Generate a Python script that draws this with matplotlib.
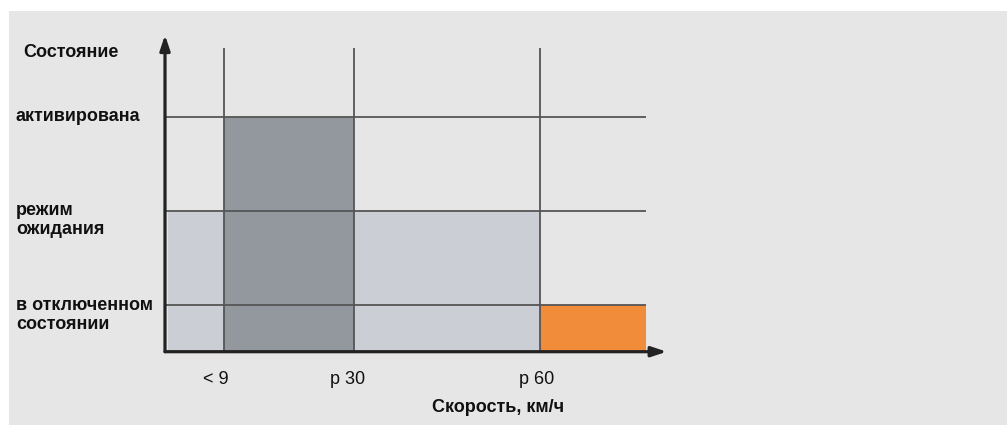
import matplotlib
matplotlib.use("Agg")
import matplotlib.pyplot as plt
from matplotlib.patches import Rectangle
from matplotlib.transforms import blended_transform_factory, offset_copy

plt.rcParams['font.family'] = ['Liberation Sans', 'DejaVu Sans']

# Data
speed_edges = [0, 9, 30, 60, 77]            # km/h segment boundaries
state_levels = [3, 5, 3, 1]                  # state level per segment
segment_colors = ['#cbced5', '#92989e', '#cbced5', '#f08c3a']
speed_ticks = [9, 30, 60]
speed_labels = ['< 9', 'p 30', 'p 60']
state_values = [5, 3, 1]
state_labels = ['активирована', 'режим\nожидания', 'в отключенном\nсостоянии']
y_title = 'Состояние'
x_title = 'Скорость, км/ч'

W, H = 1008, 425
fig = plt.figure(figsize=(W / 100, H / 100), dpi=100, facecolor='white')
fig.patches.append(Rectangle((9 / W, 0), (1007 - 9) / W, (H - 11) / H,
                             transform=fig.transFigure, facecolor='#e6e6e6',
                             edgecolor='none', zorder=-10))

# axes geometry (pixels): x=0 at 167.8, 6.208 px/unit; y=0 at 351.7, 46.9 px/unit
px_x, px_y = 6.208, 46.9
x0_px, y0_px = 167.8, 351.7
axis_px = 165.0
xmin = (axis_px - x0_px) / px_x
xmax = (666.7 - x0_px) / px_x
ymax = (y0_px - 35) / px_y
ax = fig.add_axes([axis_px / W, (H - y0_px) / H, (xmax - xmin) * px_x / W, ymax * px_y / H])
ax.set_xlim(xmin, xmax)
ax.set_ylim(0, ymax)
ax.patch.set_visible(False)
for s in ax.spines.values():
    s.set_visible(False)
ax.set_xticks([])
ax.set_yticks([])

# fills
widths = [speed_edges[i + 1] - speed_edges[i] for i in range(len(state_levels))]
lefts = [max(e, xmin) for e in speed_edges[:-1]]
widths = [speed_edges[i + 1] - lefts[i] for i in range(len(state_levels))]
ax.bar(lefts, state_levels, width=widths, align='edge',
       color=segment_colors, edgecolor='none', zorder=1)

# grid lines
line_col = '#555555'
for yv in state_values:
    ax.plot([xmin, speed_edges[-1]], [yv, yv], color=line_col, lw=1.3, zorder=2,
            solid_capstyle='butt')
vtop = (y0_px - 48) / px_y
for xv in speed_ticks:
    ax.plot([xv, xv], [0, vtop], color=line_col, lw=1.3, zorder=2,
            solid_capstyle='butt')

# axes arrows
arrow_kw = dict(arrowstyle='-|>,head_length=0.9,head_width=0.3', color='#222222',
                lw=2.3, shrinkA=0, shrinkB=0)
ax.annotate('', xy=(xmax, 0), xytext=(xmin, 0), arrowprops=arrow_kw,
            annotation_clip=False, zorder=3)
ax.annotate('', xy=(xmin, ymax), xytext=(xmin, 0), arrowprops=arrow_kw,
            annotation_clip=False, zorder=3)

# labels
txt_col = '#111111'
tr = blended_transform_factory(fig.transFigure, ax.transData)
fs = 13
ax.text(23 / W, 6.37, y_title, transform=tr, fontsize=fs, fontweight='bold',
        ha='left', va='center', color=txt_col)
label_y = [5.01, 2.81, 0.78]
for yv, lab in zip(label_y, state_labels):
    ax.text(16 / W, yv, lab, transform=tr, fontsize=fs, fontweight='bold',
            ha='left', va='center', linespacing=1.2, color=txt_col)

offsets_px = [-7.5, -6.5, -3.7]
for xv, lab, off in zip(speed_ticks, speed_labels, offsets_px):
    t = offset_copy(ax.transData, fig=fig, x=off, y=0, units='dots')
    ax.text(xv, -0.60, lab, transform=t, fontsize=fs, ha='center', va='center',
            color=txt_col)
ax.text(53.2, -1.18, x_title, fontsize=fs, fontweight='bold', ha='center',
        va='center', color=txt_col)

fig.savefig('out.png', dpi=100, facecolor=fig.get_facecolor())
